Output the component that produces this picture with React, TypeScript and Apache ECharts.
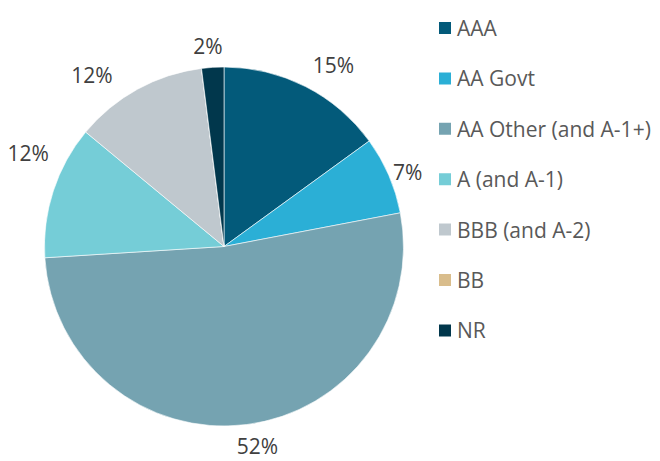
import React, { useEffect, useRef } from "react";
import * as echarts from "echarts";

const categories = ["AAA", "AA Govt", "AA Other (and A-1+)", "A (and A-1)", "BBB (and A-2)", "BB", "NR"];
const values = [15, 7, 52, 12, 12, 0, 2];
const colors = ["#035A7A", "#2BAFD6", "#75A3B1", "#75CDD7", "#BFC8CE", "#D9BD8C", "#01374C"];
const labelOffsets: number[][] = [[14, 6], [-9, 9], [7, -9], [4, -29], [-31, 13], [0, 0], [-3, 9]];

const FONT = "'Open Sans', sans-serif";

export default function App() {
  const ref = useRef<HTMLDivElement>(null);
  useEffect(() => {
    if (!ref.current) return;
    const chart = echarts.init(ref.current, undefined, { renderer: "svg" });
    const cx = 224;
    const cy = 246.5;
    chart.setOption({
      animation: false,
      backgroundColor: "#ffffff",
      color: colors,
      legend: {
        orient: "vertical",
        left: 437,
        top: 17.5,
        padding: 0,
        itemWidth: 14,
        itemHeight: 14,
        itemGap: 29.4,
        icon: "rect",
        data: categories,
        textStyle: { fontFamily: FONT, fontSize: 21, lineHeight: 21, color: "#595959" },
      },
      series: [
        {
          type: "pie",
          center: [cx, cy],
          radius: [0, 179.5],
          startAngle: 90,
          clockwise: true,
          label: { show: false },
          labelLine: { show: false },
          itemStyle: { borderColor: "#ffffff", borderWidth: 0.6 },
          data: categories.map((c, i) => ({ name: c, value: values[i], itemStyle: { color: colors[i] } })),
        },
        {
          type: "pie",
          center: [cx, cy],
          radius: [200, 214],
          startAngle: 90,
          clockwise: true,
          silent: true,
          legendHoverLink: false,
          itemStyle: { color: "rgba(0,0,0,0)" },
          emphasis: { disabled: true },
          labelLine: { show: false },
          data: categories.map((c, i) => ({
            name: c + " ",
            value: values[i],
            label: {
              show: values[i] > 0,
              position: "inside",
              formatter: values[i] + "%",
              offset: labelOffsets[i],
              fontFamily: FONT,
              fontSize: 21,
              lineHeight: 21,
              color: "#404040",
            },
          })),
        },
      ],
    });
    return () => chart.dispose();
  }, []);
  return (
    <div
      ref={ref}
      style={{ position: "fixed", left: 0, top: 0, width: 660, height: 461, background: "#fff" }}
    />
  );
}
